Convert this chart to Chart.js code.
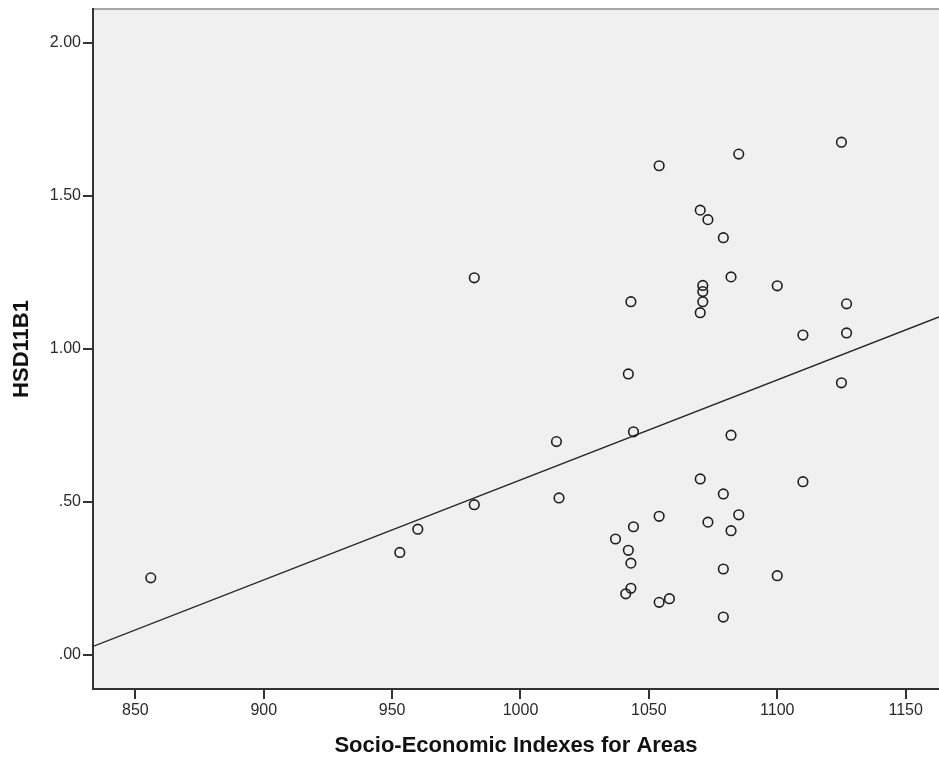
<!DOCTYPE html>
<html>
<head>
<meta charset="utf-8">
<script src="https://cdn.jsdelivr.net/npm/chart.js@4/dist/chart.umd.min.js"></script>
<style>
  html, body { margin: 0; padding: 0; background: #fff; }
  #wrap { width: 939px; height: 759px; }
</style>
</head>
<body>
<div id="wrap"><canvas id="scatterChart" width="939" height="759"></canvas></div>
<script>
// Area index (x) and HSD11B1 expression (y), one entry per sample
const seifaIndex = [
  856, 953, 960, 982, 982, 1014, 1015, 1044, 1037, 1044,
  1042, 1043, 1043, 1041, 1054, 1058, 1054, 1070, 1073, 1079,
  1079, 1079, 1082, 1082, 1085, 1100, 1110, 1054, 1085, 1125,
  1070, 1073, 1079, 1082, 1071, 1071, 1071, 1070, 1043, 1100,
  1127, 1127, 1110, 1042, 1125
];
const hsd11b1 = [
  0.252, 0.335, 0.411, 0.491, 1.232, 0.697, 0.513, 0.729, 0.379, 0.419,
  0.342, 0.300, 0.218, 0.200, 0.172, 0.184, 0.453, 0.575, 0.434, 0.526,
  0.281, 0.124, 0.718, 0.406, 0.458, 0.259, 0.566, 1.598, 1.636, 1.675,
  1.453, 1.422, 1.363, 1.235, 1.207, 1.187, 1.154, 1.118, 1.154, 1.206,
  1.147, 1.052, 1.045, 0.918, 0.889
];

// Linear fit line, ends at the axis limits
const fitX = [833.5, 1163];
const fitY = [0.028, 1.104];

const xTicks = [850, 900, 950, 1000, 1050, 1100, 1150];
const yTicks = [0, 0.5, 1, 1.5, 2];

const points = seifaIndex.map((x, i) => ({ x: x, y: hsd11b1[i] }));
const fitLine = fitX.map((x, i) => ({ x: x, y: fitY[i] }));

// grey plot panel with a light top edge
const panelBg = {
  id: 'panelBg',
  beforeDraw(chart) {
    const { ctx, chartArea: a } = chart;
    ctx.save();
    ctx.fillStyle = '#f0f0f0';
    ctx.fillRect(a.left, a.top, a.right - a.left, a.bottom - a.top);
    ctx.strokeStyle = '#8a8a8a';
    ctx.lineWidth = 1.5;
    ctx.beginPath();
    ctx.moveTo(a.left, a.top);
    ctx.lineTo(a.right, a.top);
    ctx.stroke();
    ctx.restore();
  }
};

const fmtY = v => v.toFixed(2).replace(/^0/, '');

new Chart(document.getElementById('scatterChart'), {
  type: 'scatter',
  data: {
    datasets: [
      {
        data: fitLine,
        showLine: true,
        borderColor: '#262626',
        borderWidth: 1.4,
        pointRadius: 0,
        order: 2
      },
      {
        data: points,
        pointRadius: 4.8,
        pointBorderWidth: 1.6,
        pointBorderColor: '#1e1e1e',
        pointBackgroundColor: 'rgba(0,0,0,0)',
        order: 1
      }
    ]
  },
  options: {
    responsive: false,
    animation: false,
    layout: { autoPadding: false, padding: { top: 9, right: 0, bottom: 0, left: 0 } },
    plugins: {
      legend: { display: false },
      tooltip: { enabled: false }
    },
    scales: {
      x: {
        type: 'linear',
        min: 833.5,
        max: 1163,
        afterFit: s => { s.height = 70; s.paddingLeft = 0; s.paddingRight = 0; },
        afterBuildTicks: s => { s.ticks = xTicks.map(v => ({ value: v })); },
        grid: { drawOnChartArea: false, drawTicks: true, tickLength: 10, color: '#333', lineWidth: 2 },
        border: { display: true, color: '#333', width: 2 },
        ticks: {
          color: '#2a2a2a',
          padding: 2,
          maxRotation: 0,
          font: { family: 'Liberation Sans, Arial, sans-serif', size: 16 },
          callback: v => String(v)
        },
        title: {
          display: true,
          text: 'Socio-Economic Indexes for Areas',
          color: '#111',
          padding: { top: 0, bottom: 0 },
          font: { family: 'Liberation Sans, Arial, sans-serif', size: 22, weight: 'bold' }
        }
      },
      y: {
        type: 'linear',
        min: -0.111,
        max: 2.11,
        afterFit: s => { s.width = 93; s.paddingTop = 0; s.paddingBottom = 0; },
        afterBuildTicks: s => { s.ticks = yTicks.map(v => ({ value: v })); },
        grid: { drawOnChartArea: false, drawTicks: true, tickLength: 10, color: '#333', lineWidth: 2 },
        border: { display: true, color: '#333', width: 2 },
        ticks: {
          color: '#2a2a2a',
          padding: 2,
          font: { family: 'Liberation Sans, Arial, sans-serif', size: 16 },
          callback: v => fmtY(v)
        },
        title: {
          display: true,
          text: 'HSD11B1',
          color: '#111',
          padding: { top: 9, bottom: 0 },
          font: { family: 'Liberation Sans, Arial, sans-serif', size: 22, weight: 'bold' }
        }
      }
    }
  },
  plugins: [panelBg]
});
</script>
</body>
</html>
